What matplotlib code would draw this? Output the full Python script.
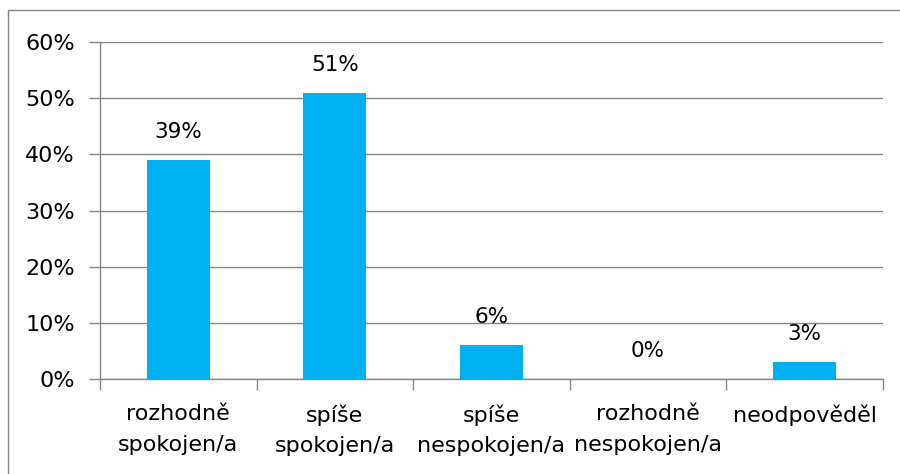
import matplotlib.pyplot as plt
from matplotlib.patches import Rectangle
from matplotlib.ticker import FuncFormatter, FixedLocator

categories = ["rozhodně\nspokojen/a", "spíše\nspokojen/a", "spíše\nnespokojen/a",
              "rozhodně\nnespokojen/a", "neodpověděl"]
values = [39, 51, 6, 0, 3]
y_ticks = [0, 10, 20, 30, 40, 50, 60]

bar_color = "#00B0F0"
grid_color = "#868686"

fig = plt.figure(figsize=(9, 4.74), dpi=100)
ax = fig.add_axes([0.111, 0.2, 0.87, 0.7114])

# outer chart border
fig.patches.append(Rectangle((8 / 900, -0.1), 1.2, 1 - 10 / 474 + 0.1, transform=fig.transFigure,
                             fill=False, edgecolor=grid_color, linewidth=1))

x = list(range(len(categories)))
ax.bar(x, values, width=0.4, color=bar_color, zorder=3)

for xi, v in zip(x, values):
    ax.annotate(f"{v}%", (xi, v), xytext=(0, 13), textcoords="offset points",
                ha="center", va="bottom", fontsize=15.5, color="#000000")

ax.set_xlim(-0.5, len(categories) - 0.5)
ax.set_ylim(0, 60)
ax.yaxis.set_major_locator(FixedLocator(y_ticks))
ax.yaxis.set_major_formatter(FuncFormatter(lambda v, p: f"{v:.0f}%"))
ax.yaxis.grid(True, color=grid_color, linewidth=1, zorder=0)

ax.set_xticks(x)
ax.set_xticklabels(categories, fontsize=16, linespacing=1.65)
ax.set_xticks([i + 0.5 for i in range(-1, len(categories))], minor=True)
ax.tick_params(axis="x", which="major", length=0, pad=18)
ax.tick_params(axis="x", which="minor", length=8, color=grid_color, width=1)
ax.tick_params(axis="y", length=8, color=grid_color, width=1, labelsize=16, pad=10)

for s in ["top", "right"]:
    ax.spines[s].set_visible(False)
for s in ["left", "bottom"]:
    ax.spines[s].set_color(grid_color)
    ax.spines[s].set_linewidth(1)

fig.savefig("out.png", dpi=100)
